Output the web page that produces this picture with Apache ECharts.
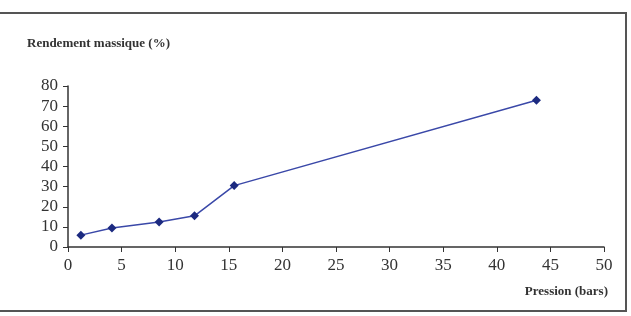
<!DOCTYPE html>
<html>
<head>
<meta charset="utf-8">
<script src="https://cdn.jsdelivr.net/npm/echarts@6/dist/echarts.min.js"></script>
<style>
  html, body { margin: 0; padding: 0; background: #fff; }
  #chart { width: 631px; height: 316px; }
</style>
</head>
<body>
<div id="chart"></div>
<script>
// pression (bars) et rendement massique (%)
const pression = [1.2, 4.1, 8.5, 11.8, 15.5, 43.7]
const rendement = [5.9, 9.4, 12.4, 15.5, 30.5, 72.9]

const yTitle = 'Rendement massique (%)'
const xTitle = 'Pression (bars)'

const font = '"Liberation Serif", "DejaVu Serif", serif'
const axisColor = '#333'

const chart = echarts.init(document.getElementById('chart'))
chart.setOption({
  animation: false,
  grid: { left: 68, right: 27, top: 86, bottom: 69 },
  graphic: [
    {
      type: 'rect',
      shape: { x: -4, y: 13, width: 630, height: 298 },
      style: { fill: 'none', stroke: '#555', lineWidth: 2 }
    },
    {
      type: 'text',
      left: 27, top: 37,
      style: { text: yTitle, font: 'bold 13px ' + font, fill: '#333' }
    },
    {
      type: 'text',
      right: 23, top: 285,
      style: { text: xTitle, font: 'bold 13px ' + font, fill: '#333' }
    }
  ],
  xAxis: {
    type: 'value',
    min: 0, max: 50, interval: 5,
    axisLine: { lineStyle: { color: axisColor, width: 1.5 } },
    axisTick: { show: true, length: 5, lineStyle: { color: axisColor } },
    axisLabel: { color: '#333', fontFamily: font, fontSize: 17, margin: 10 },
    splitLine: { show: false }
  },
  yAxis: {
    type: 'value',
    min: 0, max: 80, interval: 10,
    axisLine: { show: true, lineStyle: { color: axisColor, width: 1.5 } },
    axisTick: { show: true, length: 5, lineStyle: { color: axisColor } },
    axisLabel: { color: '#333', fontFamily: font, fontSize: 17, margin: 10 },
    splitLine: { show: false }
  },
  series: [{
    type: 'line',
    data: pression.map((p, i) => [p, rendement[i]]),
    symbol: 'diamond',
    symbolSize: 9,
    itemStyle: { color: '#1c2a80' },
    lineStyle: { color: '#3a48a8', width: 1.5 }
  }]
})
</script>
</body>
</html>
